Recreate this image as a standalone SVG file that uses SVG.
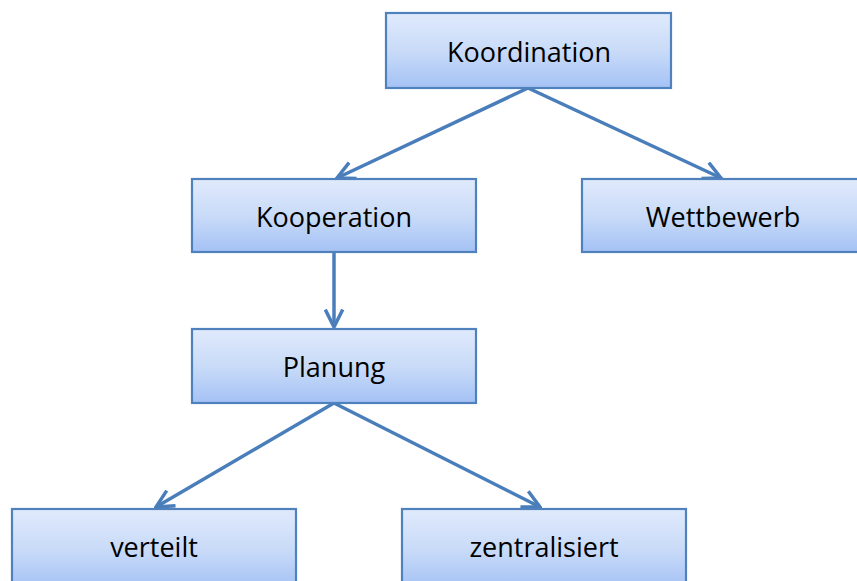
<svg xmlns="http://www.w3.org/2000/svg" width="857" height="581" viewBox="0 0 857 581">
  <style>
    .box { fill: url(#boxFill); stroke: #4f81bd; stroke-width: 2.2; }
    .label { font-family: "Open Sans", "Liberation Sans", sans-serif; font-size: 27px; fill: #000; text-anchor: middle; }
    .edge { fill: none; stroke: #4a7ebb; stroke-width: 3.5; marker-end: url(#chevron); }
  </style>
  <defs>
    <linearGradient id="boxFill" x1="0" y1="0" x2="0" y2="1">
      <stop offset="0" stop-color="#e0eafc"/>
      <stop offset="0.5" stop-color="#c9dbf8"/>
      <stop offset="1" stop-color="#a4c2f5"/>
    </linearGradient>
    <marker id="chevron" viewBox="0 0 12 12" refX="11" refY="6" markerWidth="6" markerHeight="6" markerUnits="strokeWidth" orient="auto">
      <path d="M1,1 L11,6 L1,11" fill="none" stroke="#4a7ebb" stroke-width="2" stroke-linejoin="miter"/>
    </marker>
  </defs>

  <g id="connectors">
    <line class="edge" x1="528" y1="88" x2="337" y2="178"/>
    <line class="edge" x1="528" y1="88" x2="721" y2="178"/>
    <line class="edge" x1="334" y1="252" x2="334" y2="327"/>
    <line class="edge" x1="334" y1="403" x2="156" y2="507"/>
    <line class="edge" x1="334" y1="403" x2="540" y2="507"/>
  </g>

  <g id="koordination">
    <rect class="box" x="386" y="13" width="285" height="75"/>
    <text class="label" x="529" y="62">Koordination</text>
  </g>
  <g id="kooperation">
    <rect class="box" x="192" y="179" width="284" height="73"/>
    <text class="label" x="334" y="227">Kooperation</text>
  </g>
  <g id="wettbewerb">
    <rect class="box" x="582" y="179" width="290" height="73"/>
    <text class="label" x="723" y="227">Wettbewerb</text>
  </g>
  <g id="planung">
    <rect class="box" x="192" y="329" width="284" height="74"/>
    <text class="label" x="334" y="377">Planung</text>
  </g>
  <g id="verteilt">
    <rect class="box" x="12" y="509" width="284" height="80"/>
    <text class="label" x="154" y="557">verteilt</text>
  </g>
  <g id="zentralisiert">
    <rect class="box" x="402" y="509" width="284" height="80"/>
    <text class="label" x="544" y="557">zentralisiert</text>
  </g>
</svg>
